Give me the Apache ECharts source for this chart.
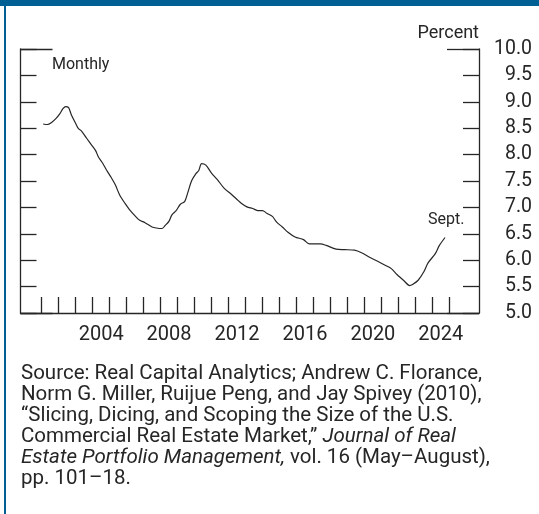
<!DOCTYPE html>
<html>
<head>
<meta charset="utf-8">
<script src="https://cdn.jsdelivr.net/npm/echarts@6/dist/echarts.min.js"></script>
<style>
  html, body { margin: 0; padding: 0; background: #fff; }
  #chart { width: 539px; height: 514px; }
</style>
</head>
<body>
<div id="chart"></div>
<script>
// month-end readings, roughly quarterly
const months = [
  '2001-01', '2001-04', '2001-07', '2001-10', '2002-01', '2002-03', '2002-05', '2002-07', '2002-09', '2002-12',
  '2003-02', '2003-04', '2003-08', '2003-11', '2004-02', '2004-04', '2004-07', '2004-10', '2005-01', '2005-04',
  '2005-07', '2005-11', '2006-02', '2006-06', '2006-09', '2007-01', '2007-06', '2007-09', '2008-01', '2008-03',
  '2008-06', '2008-08', '2008-11', '2009-02', '2009-05', '2009-07', '2009-10', '2010-01', '2010-03', '2010-05',
  '2010-08', '2010-12', '2011-04', '2011-09', '2012-02', '2012-06', '2012-09', '2013-01', '2013-05', '2013-09',
  '2013-12', '2014-03', '2014-07', '2014-10', '2015-02', '2015-06', '2015-11', '2016-05', '2016-09', '2017-01',
  '2017-05', '2017-09', '2018-04', '2018-10', '2019-05', '2019-10', '2020-04', '2020-10', '2021-03', '2021-07',
  '2021-11', '2022-04', '2022-08', '2022-10', '2023-02', '2023-06', '2023-09', '2024-02', '2024-05', '2024-09'
];
const capRate = [
  8.58, 8.57, 8.61, 8.68, 8.78, 8.87, 8.91, 8.89, 8.75, 8.59,
  8.49, 8.45, 8.30, 8.19, 8.08, 7.96, 7.84, 7.70, 7.57, 7.43,
  7.24, 7.07, 6.96, 6.84, 6.76, 6.71, 6.63, 6.61, 6.60, 6.65,
  6.74, 6.86, 6.94, 7.06, 7.11, 7.26, 7.51, 7.64, 7.70, 7.83,
  7.80, 7.65, 7.53, 7.36, 7.25, 7.15, 7.08, 7.01, 6.98, 6.94,
  6.94, 6.89, 6.83, 6.72, 6.63, 6.53, 6.44, 6.39, 6.31, 6.31,
  6.31, 6.28, 6.21, 6.20, 6.19, 6.14, 6.05, 5.97, 5.90, 5.84,
  5.73, 5.61, 5.52, 5.54, 5.62, 5.78, 5.95, 6.12, 6.28, 6.43
];
const years = [];
for (let y = 2001; y <= 2024; y++) years.push(String(y));
const labeledYears = ['2004', '2008', '2012', '2016', '2020', '2024'];

const sourceLines = [
  'Source: Real Capital Analytics; Andrew C. Florance,',
  'Norm G. Miller, Ruijue Peng, and Jay Spivey (2010),',
  '\u201cSlicing, Dicing, and Scoping the Size of the U.S.',
  'Commercial Real Estate Market,\u201d {i|Journal of Real}',
  '{i|Estate Portfolio Management,} vol. 16 (May\u2013August),',
  'pp. 101\u201318.'
];

const ink = '#262626';
const font = 'Roboto, "Liberation Sans", sans-serif';

// month-end position on a year scale
const points = months.map((m, i) => {
  const [y, mo] = m.split('-').map(Number);
  return [y + mo / 12, capRate[i]];
});

const chart = echarts.init(document.getElementById('chart'), null, {renderer: 'canvas'});

const frameAxis = (pos, len, step) => ({
  gridIndex: 0, type: 'value', position: pos, min: 5, max: 10, interval: step,
  axisLine: {show: len === 16, lineStyle: {color: ink, width: 1.3}},
  axisTick: {show: true, inside: true, length: len, lineStyle: {color: ink, width: 1.3}},
  axisLabel: {show: false},
  splitLine: {show: false}
});

const rightAxis = frameAxis('right', 16, 0.5);
rightAxis.axisLabel = {
  show: true, inside: false, align: 'right', margin: 53,
  fontSize: 19.5, fontFamily: font, color: ink,
  showMinLabel: true, showMaxLabel: true,
  formatter: v => v.toFixed(1)
};

const option = {
  animation: false,
  backgroundColor: '#fff',
  grid: [
    {left: 20.5, right: 60, top: 49, height: 264},
    {left: 41.7, right: 89.7, top: 49, height: 264}
  ],
  xAxis: [
    {
      gridIndex: 0, type: 'value', min: 0, max: 1,
      axisLine: {show: true, lineStyle: {color: ink, width: 1.3}},
      axisTick: {show: false}, axisLabel: {show: false}, splitLine: {show: false}
    },
    {
      gridIndex: 1, type: 'category', data: years, boundaryGap: true,
      axisLine: {show: false},
      axisTick: {show: true, inside: true, length: 16, interval: 0, lineStyle: {color: ink, width: 1.3}},
      axisLabel: {
        interval: (i, v) => labeledYears.includes(v),
        margin: 12, fontSize: 20, fontFamily: font, color: ink
      },
      splitLine: {show: false}
    },
    {gridIndex: 1, type: 'value', min: 2001, max: 2025, show: false}
  ],
  yAxis: [
    frameAxis('left', 16, 0.5),
    rightAxis,
    frameAxis('left', 32, 5),
    frameAxis('right', 32, 5),
    {gridIndex: 1, type: 'value', min: 5, max: 10, show: false}
  ],
  series: [
    {
      type: 'line',
      xAxisIndex: 2,
      yAxisIndex: 4,
      data: points,
      showSymbol: false,
      smooth: 0.3,
      lineStyle: {color: ink, width: 1.2}
    }
  ],
  graphic: [
    {type: 'rect', left: 0, top: 0, shape: {width: 539, height: 6}, style: {fill: '#005f93'}},
    {type: 'rect', left: 4, top: 0, shape: {width: 2, height: 514}, style: {fill: '#005f93'}},
    {
      type: 'text', right: 60, top: 24,
      style: {text: 'Percent', font: '18px ' + font, fill: ink}
    },
    {
      type: 'text', left: 52, top: 57,
      style: {text: 'Monthly', font: '16px ' + font, fill: ink}
    },
    {
      type: 'text', left: 428, top: 212,
      style: {text: 'Sept.', font: '16px ' + font, fill: ink}
    },
    {
      type: 'text', left: 21, top: 363,
      style: {
        text: sourceLines.join('\n'),
        font: '20.5px ' + font,
        fill: ink,
        lineHeight: 21,
        rich: {
          i: {fontStyle: 'italic', fontSize: 20.5, fontFamily: font, color: ink, lineHeight: 21}
        }
      }
    }
  ]
};

chart.setOption(option);
window.addEventListener('resize', () => chart.resize());
</script>
</body>
</html>
